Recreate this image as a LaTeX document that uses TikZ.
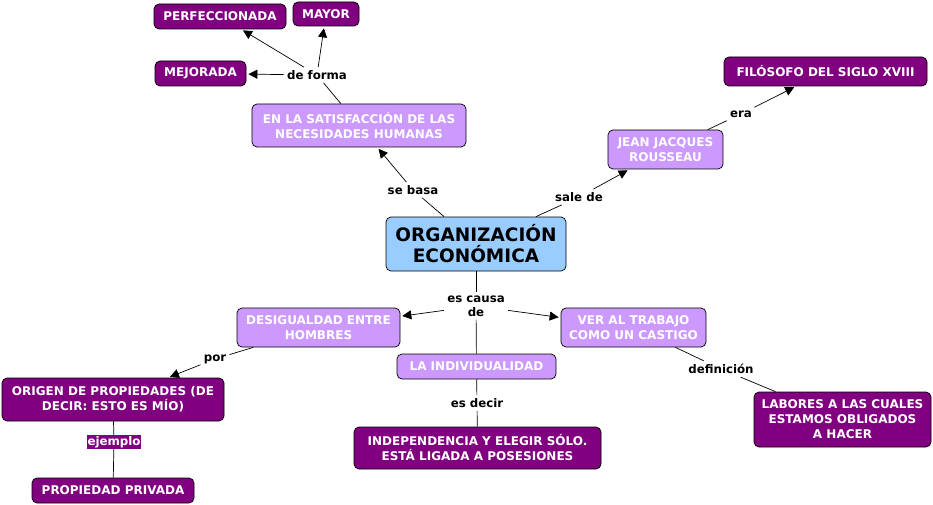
\documentclass[tikz,border=0pt]{standalone}
\usepackage{fontspec}
\setmainfont{DejaVu Sans}
\usetikzlibrary{arrows.meta}
\definecolor{dpurple}{RGB}{128,0,128}
\definecolor{lav}{RGB}{204,153,255}
\definecolor{lblue}{RGB}{153,204,255}
\begin{document}
\begin{tikzpicture}[x=1pt,y=-1pt,
  box/.style={draw=black, rounded corners=5pt, align=center, inner sep=0pt, line width=0.7pt,
    font=\bfseries\fontsize{12}{15}\selectfont},
  dark/.style={box, fill=dpurple, text=white},
  light/.style={box, fill=lav, text=white},
  main/.style={box, fill=lblue, text=black, font=\bfseries\fontsize{18.5}{21}\selectfont},
  lbl/.style={font=\bfseries\fontsize{11.8}{14}\selectfont, inner sep=3pt, align=center},
  arr/.style={-{Triangle[length=9pt,width=9pt]}, shorten >=2pt},
  every path/.style={line width=0.7pt}]
\useasboundingbox (0,0) rectangle (933,505);

% nodes
\node[main, minimum width=180pt, minimum height=54pt] (org) at (476,244) {ORGANIZACIÓN\\ECONÓMICA};
\node[light, minimum width=214pt, minimum height=43pt] (sat) at (359,125.5) {EN LA SATISFACCIÓN DE LAS\\NECESIDADES HUMANAS};
\node[dark, minimum width=132pt, minimum height=25pt] (perf) at (220,16.5) {PERFECCIONADA};
\node[dark, minimum width=66pt, minimum height=24pt] (mayor) at (326,14) {MAYOR};
\node[dark, minimum width=91pt, minimum height=25pt] (mej) at (200.5,73.5) {MEJORADA};
\node[light, minimum width=115pt, minimum height=39pt] (jjr) at (665.5,149.5) {JEAN JACQUES\\ROUSSEAU};
\node[dark, minimum width=203pt, minimum height=29pt] (fil) at (825.5,71.5) {FILÓSOFO DEL SIGLO XVIII};
\node[light, minimum width=163pt, minimum height=39pt] (des) at (318.5,327.5) {DESIGUALDAD ENTRE\\HOMBRES};
\node[light, minimum width=145pt, minimum height=39pt] (ver) at (633.5,327.5) {VER AL TRABAJO\\COMO UN CASTIGO};
\node[light, minimum width=159pt, minimum height=25pt] (ind) at (476.5,366.5) {LA INDIVIDUALIDAD};
\node[dark, minimum width=247pt, minimum height=42pt] (indep) at (477.5,448) {INDEPENDENCIA Y ELEGIR SÓLO.\\ESTÁ LIGADA A POSESIONES};
\node[dark, minimum width=222pt, minimum height=43pt] (orig) at (113,399.5) {ORIGEN DE PROPIEDADES (DE\\DECIR: ESTO ES MÍO)};
\node[dark, minimum width=162pt, minimum height=25pt] (priv) at (113,490.5) {PROPIEDAD PRIVADA};
\node[dark, minimum width=177pt, minimum height=55pt] (lab) at (842.5,419.5) {LABORES A LAS CUALES\\ESTAMOS OBLIGADOS\\A HACER};

% linking phrases
\node[lbl] (deforma) at (317,75) {de forma};
\node[lbl] (sebasa) at (413,190) {se basa};
\node[lbl] (salede) at (579,197) {sale de};
\node[lbl] (era) at (741,114) {era};
\node[lbl, font=\bfseries\fontsize{11.8}{14}\selectfont] (causa) at (476,306) {es causa\\de};
\node[lbl] (por) at (215,359) {por};
\node[lbl, fill=dpurple, text=white, inner sep=1pt] (ejem) at (114,442) {ejemplo};
\node[lbl] (esdecir) at (477,403) {es decir};
\node[lbl] (def) at (721,369) {definición};

% connectors
\draw (sat) -- (deforma);
\draw[arr] (deforma) -- (perf);
\draw[arr] (deforma) -- (mayor);
\draw[arr] (deforma) -- (mej);
\draw (org) -- (sebasa);
\draw[arr] (sebasa) -- (sat);
\draw (org) -- (salede);
\draw[arr] (salede) -- (jjr);
\draw (jjr) -- (era);
\draw[arr] (era) -- (fil);
\draw (org) -- (causa);
\draw[arr] (causa) -- (des);
\draw[arr] (causa) -- (ver);
\draw (causa) -- (ind);
\draw (des) -- (por);
\draw[arr] (por) -- (orig);
\draw (orig) -- (ejem);
\draw (ejem) -- (priv);
\draw (ind) -- (esdecir);
\draw (esdecir) -- (indep);
\draw (ver) -- (def);
\draw (def) -- (lab);
\end{tikzpicture}
\end{document}
